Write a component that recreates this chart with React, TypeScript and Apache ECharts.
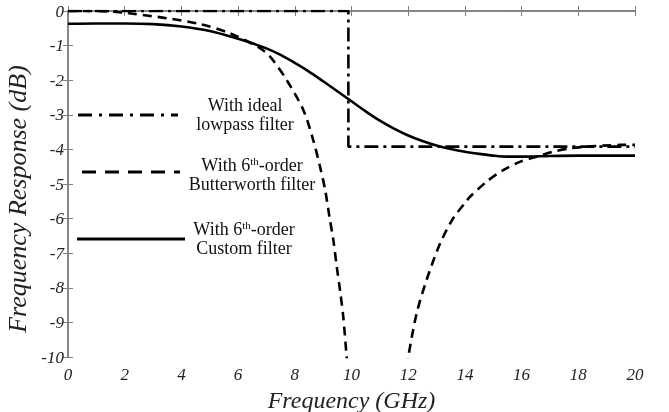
import React, { useEffect, useRef } from "react";
import * as echarts from "echarts";

const xTicks = [0, 2, 4, 6, 8, 10, 12, 14, 16, 18, 20];
const yTicks = [0, -1, -2, -3, -4, -5, -6, -7, -8, -9, -10];

const idealFreq = [0, 9.89, 9.89, 20];
const idealResp = [0, 0, -3.92, -3.92];

const bwLeftFreq = [0, 1, 2, 2.3, 3.5, 4.66, 5.7, 6.77, 7.13, 7.71, 8.3, 8.65, 8.89, 9.07, 9.24, 9.36, 9.48, 9.6, 9.71, 9.83, 9.9];
const bwLeftResp = [0, 0, -0.05, -0.08, -0.21, -0.38, -0.64, -1.07, -1.32, -1.99, -2.86, -3.73, -4.5, -5.17, -6.04, -6.62, -7.39, -8.1, -8.84, -10, -10.6];

const bwRightFreq = [11.95, 12.0, 12.3, 12.65, 13.12, 13.58, 14.0, 14.18, 14.77, 15.35, 15.94, 16.53, 17.1, 17.7, 18.3, 18.9, 19.5, 20];
const bwRightResp = [-10.3, -10, -8.73, -7.77, -6.73, -6.0, -5.55, -5.37, -4.93, -4.6, -4.36, -4.21, -4.07, -3.97, -3.92, -3.89, -3.87, -3.87];

const customFreq = [0, 1, 2, 3, 4, 5, 6, 6.5, 7, 7.5, 8, 8.5, 9, 9.5, 9.9, 10.5, 11, 11.5, 12, 12.5, 13, 13.5, 14, 14.5, 15, 15.5, 16, 17, 18, 19, 20];
const customResp = [-0.37, -0.36, -0.36, -0.38, -0.45, -0.58, -0.8, -0.93, -1.08, -1.27, -1.5, -1.75, -2.03, -2.32, -2.55, -2.9, -3.17, -3.4, -3.6, -3.76, -3.89, -3.99, -4.07, -4.13, -4.18, -4.21, -4.21, -4.19, -4.18, -4.18, -4.18];

const legendLabels = [
  "{n|With ideal}\n{n|lowpass filter}",
  "{n|With 6}{s|th}{n|-order}\n{n|Butterworth filter}",
  "{n|With 6}{s|th}{n|-order}\n{n|Custom filter}",
];

const FONT = "Liberation Serif";
const AXIS_COLOR = "#7f7f7f";

const zip = (xs: number[], ys: number[]) => xs.map((x, i) => [x, ys[i]]);

export default function App() {
  const ref = useRef<HTMLDivElement>(null);
  useEffect(() => {
    if (!ref.current) return;
    const chart = echarts.init(ref.current, undefined, { renderer: "svg" });
    const axisLine = { show: true, lineStyle: { color: AXIS_COLOR, width: 1.5 } };
    const axisTick = { show: true, inside: true, length: 5, lineStyle: { color: AXIS_COLOR, width: 1 } };
    const rich = {
      n: { fontFamily: FONT, fontSize: 18, lineHeight: 19, color: "#111" },
      s: { fontFamily: FONT, fontSize: 11, lineHeight: 19, verticalAlign: "top", color: "#111" },
    };
    const legendText = (x: number, y: number, t: string) => ({
      type: "text",
      x,
      y,
      style: {
        text: t,
        rich,
        align: "center",
        verticalAlign: "middle",
        fill: "#111",
        fontFamily: FONT,
        fontSize: 18,
      },
    });
    const legendLine = (x1: number, x2: number, y: number, dash: number[] | null) => ({
      type: "line",
      shape: { x1, y1: y, x2, y2: y },
      style: { stroke: "#000", lineWidth: 3, lineDash: dash || undefined },
    });
    chart.setOption({
      animation: false,
      grid: { left: 68, right: 34, top: 11, bottom: 55, outerBoundsMode: "none", containLabel: false },
      xAxis: [
        {
          type: "value",
          min: 0,
          max: 20,
          interval: 2,
          axisLine,
          axisTick,
          splitLine: { show: false },
          axisLabel: { fontFamily: FONT, fontStyle: "italic", fontSize: 17, color: "#222", margin: 9, formatter: (v: number) => (xTicks.includes(v) ? String(v) : "") },
          name: "Frequency (GHz)",
          nameLocation: "middle",
          nameGap: 24,
          nameTextStyle: { fontFamily: FONT, fontStyle: "italic", fontSize: 24, color: "#222" },
        },
        {
          type: "value",
          position: "top",
          min: 0,
          max: 20,
          interval: 2,
          axisLine,
          axisTick,
          splitLine: { show: false },
          axisLabel: { show: false },
        },
      ],
      yAxis: [
        {
          type: "value",
          min: -10,
          max: 0,
          interval: 1,
          axisLine,
          axisTick,
          splitLine: { show: false },
          axisLabel: { fontFamily: FONT, fontStyle: "italic", fontSize: 17, color: "#222", margin: 4, formatter: (v: number) => (yTicks.includes(v) ? String(v) : "") },
          name: "Frequency Response (dB)",
          nameLocation: "middle",
          nameGap: 27,
          nameTextStyle: { fontFamily: FONT, fontStyle: "italic", fontSize: 26, color: "#222", padding: [0, 30, 0, 0] },
        },
        {
          type: "value",
          position: "right",
          min: -10,
          max: 0,
          interval: 1,
          axisLine,
          axisTick,
          splitLine: { show: false },
          axisLabel: { show: false },
        },
      ],
      series: [
        {
          name: "ideal",
          type: "line",
          data: zip(idealFreq, idealResp),
          showSymbol: false,
          clip: true,
          lineStyle: { color: "#000", width: 2.6, type: [14, 5, 3, 5] },
        },
        {
          name: "bwL",
          type: "line",
          data: zip(bwLeftFreq, bwLeftResp),
          showSymbol: false,
          smooth: 0.3,
          clip: true,
          lineStyle: { color: "#000", width: 2.6, type: [9, 6] },
        },
        {
          name: "bwR",
          type: "line",
          data: zip(bwRightFreq, bwRightResp),
          showSymbol: false,
          smooth: 0.3,
          clip: true,
          lineStyle: { color: "#000", width: 2.6, type: [9, 6] },
        },
        {
          name: "custom",
          type: "line",
          data: zip(customFreq, customResp),
          showSymbol: false,
          smooth: 0.3,
          clip: true,
          lineStyle: { color: "#000", width: 2.6 },
        },
      ],
      graphic: [
        legendLine(78, 178, 115, [14, 7, 3, 7]),
        legendLine(82, 180, 172, [14, 9]),
        legendLine(77, 185, 239, null),
        legendText(245, 114, legendLabels[0]),
        legendText(252, 174, legendLabels[1]),
        legendText(244, 238, legendLabels[2]),
      ],
    });
    return () => chart.dispose();
  }, []);
  return (
    <div
      ref={ref}
      style={{ position: "fixed", left: 0, top: 0, width: 669, height: 412 }}
    />
  );
}
